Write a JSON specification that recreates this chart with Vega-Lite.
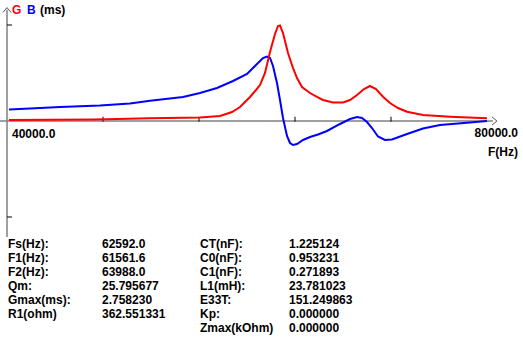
{
  "$schema": "https://vega.github.io/schema/vega-lite/v6.json",
  "width": 480,
  "height": 224,
  "autosize": {"type": "none"},
  "padding": {"left": 7, "top": 9, "right": 36, "bottom": 118},
  "background": "white",
  "config": {"view": {"stroke": null}, "axis": {"disable": true}, "font": "Liberation Sans"},
  "datasets": {
    "curves": [
      {"f": 40167, "v": 0.330, "s": "B"}, {"f": 41917, "v": 0.359, "s": "B"}, {"f": 44417, "v": 0.402, "s": "B"},
      {"f": 47750, "v": 0.445, "s": "B"}, {"f": 50250, "v": 0.503, "s": "B"}, {"f": 51917, "v": 0.583, "s": "B"},
      {"f": 54667, "v": 0.690, "s": "B"}, {"f": 56083, "v": 0.804, "s": "B"}, {"f": 57500, "v": 0.948, "s": "B"},
      {"f": 58833, "v": 1.149, "s": "B"}, {"f": 60000, "v": 1.350, "s": "B"}, {"f": 60833, "v": 1.638, "s": "B"},
      {"f": 61333, "v": 1.810, "s": "B"}, {"f": 61667, "v": 1.853, "s": "B"}, {"f": 61917, "v": 1.810, "s": "B"},
      {"f": 62167, "v": 1.580, "s": "B"}, {"f": 62500, "v": 1.092, "s": "B"}, {"f": 62750, "v": 0.603, "s": "B"},
      {"f": 63000, "v": 0.086, "s": "B"}, {"f": 63333, "v": -0.431, "s": "B"}, {"f": 63583, "v": -0.632, "s": "B"},
      {"f": 63833, "v": -0.690, "s": "B"}, {"f": 64167, "v": -0.661, "s": "B"}, {"f": 64667, "v": -0.546, "s": "B"},
      {"f": 65250, "v": -0.460, "s": "B"}, {"f": 65917, "v": -0.388, "s": "B"}, {"f": 66667, "v": -0.287, "s": "B"},
      {"f": 67750, "v": -0.086, "s": "B"}, {"f": 68583, "v": 0.057, "s": "B"}, {"f": 69167, "v": 0.115, "s": "B"},
      {"f": 69583, "v": 0.086, "s": "B"}, {"f": 70000, "v": -0.029, "s": "B"}, {"f": 70417, "v": -0.201, "s": "B"},
      {"f": 70917, "v": -0.445, "s": "B"}, {"f": 71500, "v": -0.546, "s": "B"}, {"f": 72083, "v": -0.532, "s": "B"},
      {"f": 73333, "v": -0.374, "s": "B"}, {"f": 74667, "v": -0.215, "s": "B"}, {"f": 76083, "v": -0.115, "s": "B"},
      {"f": 78333, "v": -0.049, "s": "B"}, {"f": 80000, "v": 0.0, "s": "B"},
      {"f": 40167, "v": 0.029, "s": "G"}, {"f": 47333, "v": 0.043, "s": "G"}, {"f": 51917, "v": 0.078, "s": "G"},
      {"f": 56083, "v": 0.101, "s": "G"}, {"f": 57750, "v": 0.144, "s": "G"}, {"f": 58750, "v": 0.259, "s": "G"},
      {"f": 59417, "v": 0.402, "s": "G"}, {"f": 60250, "v": 0.690, "s": "G"}, {"f": 60750, "v": 0.891, "s": "G"},
      {"f": 61083, "v": 1.034, "s": "G"}, {"f": 61500, "v": 1.379, "s": "G"}, {"f": 61917, "v": 1.982, "s": "G"},
      {"f": 62333, "v": 2.500, "s": "G"}, {"f": 62583, "v": 2.729, "s": "G"}, {"f": 62750, "v": 2.744, "s": "G"},
      {"f": 63000, "v": 2.528, "s": "G"}, {"f": 63417, "v": 1.954, "s": "G"}, {"f": 63833, "v": 1.523, "s": "G"},
      {"f": 64167, "v": 1.235, "s": "G"}, {"f": 64583, "v": 0.977, "s": "G"}, {"f": 65250, "v": 0.804, "s": "G"},
      {"f": 65833, "v": 0.690, "s": "G"}, {"f": 66333, "v": 0.603, "s": "G"}, {"f": 67167, "v": 0.532, "s": "G"},
      {"f": 68000, "v": 0.532, "s": "G"}, {"f": 68583, "v": 0.603, "s": "G"}, {"f": 69167, "v": 0.747, "s": "G"},
      {"f": 69750, "v": 0.919, "s": "G"}, {"f": 70250, "v": 1.006, "s": "G"}, {"f": 70750, "v": 0.919, "s": "G"},
      {"f": 71333, "v": 0.698, "s": "G"}, {"f": 71917, "v": 0.517, "s": "G"}, {"f": 72583, "v": 0.374, "s": "G"},
      {"f": 73333, "v": 0.267, "s": "G"}, {"f": 74667, "v": 0.172, "s": "G"}, {"f": 76917, "v": 0.124, "s": "G"},
      {"f": 80000, "v": 0.078, "s": "G"}
    ],
    "one": [{}],
    "xticks": [{"f": 48000}, {"f": 56000}, {"f": 64000}, {"f": 72000}],
    "yticks": [{"v": 2.758}, {"v": -2.758}],
    "table": [
      {"row": 0, "side": "left", "label": "Fs(Hz):", "value": "62592.0"},
      {"row": 1, "side": "left", "label": "F1(Hz):", "value": "61561.6"},
      {"row": 2, "side": "left", "label": "F2(Hz):", "value": "63988.0"},
      {"row": 3, "side": "left", "label": "Qm:", "value": "25.795677"},
      {"row": 4, "side": "left", "label": "Gmax(ms):", "value": "2.758230"},
      {"row": 5, "side": "left", "label": "R1(ohm)", "value": "362.551331"},
      {"row": 0, "side": "right", "label": "CT(nF):", "value": "1.225124"},
      {"row": 1, "side": "right", "label": "C0(nF):", "value": "0.953231"},
      {"row": 2, "side": "right", "label": "C1(nF):", "value": "0.271893"},
      {"row": 3, "side": "right", "label": "L1(mH):", "value": "23.781023"},
      {"row": 4, "side": "right", "label": "E33T:", "value": "151.249863"},
      {"row": 5, "side": "right", "label": "Kp:", "value": "0.000000"},
      {"row": 6, "side": "right", "label": "Zmax(kOhm)", "value": "0.000000"}
    ]
  },
  "layer": [
    {
      "layer": [
        {
          "data": {"name": "curves"},
          "mark": {"type": "line", "strokeWidth": 2, "opacity": 0},
          "encoding": {
            "x": {"field": "f", "type": "quantitative", "scale": {"domain": [40000, 80000], "nice": false, "zero": false}},
            "y": {"field": "v", "type": "quantitative", "scale": {"domain": [-3.218, 3.218], "nice": false, "zero": false}},
            "detail": {"field": "s"}
          }
        },
        {
          "data": {"name": "one"},
          "mark": {"type": "rule", "color": "#808080", "strokeWidth": 1.5},
          "encoding": {"x": {"datum": 39417}, "x2": {"datum": 80500}, "y": {"datum": 0}}
        },
        {
          "data": {"name": "one"},
          "mark": {"type": "rule", "color": "#808080", "strokeWidth": 1.5},
          "encoding": {"x": {"datum": 40000}, "y": {"datum": 3.2}, "y2": {"datum": -3.33}}
        },
        {
          "data": {"name": "one"},
          "mark": {"type": "point", "shape": "M-1,0.6L0,-0.6L1,0.6", "filled": false, "stroke": "#555555", "strokeWidth": 1, "size": 64, "opacity": 1},
          "encoding": {"x": {"datum": 40000}, "y": {"datum": 3.189}}
        },
        {
          "data": {"name": "one"},
          "mark": {"type": "point", "shape": "M-0.6,-1L0.6,0L-0.6,1", "filled": false, "stroke": "#555555", "strokeWidth": 1, "size": 64, "opacity": 1},
          "encoding": {"x": {"datum": 80625}, "y": {"datum": 0}}
        },
        {
          "data": {"name": "xticks"},
          "mark": {"type": "tick", "orient": "vertical", "color": "#000000", "thickness": 1, "size": 5, "opacity": 1},
          "encoding": {"x": {"field": "f", "type": "quantitative"}, "y": {"datum": 0.05}}
        },
        {
          "data": {"name": "yticks"},
          "mark": {"type": "rule", "color": "#000000", "strokeWidth": 1},
          "encoding": {"x": {"datum": 40000}, "x2": {"datum": 40420}, "y": {"field": "v", "type": "quantitative"}}
        },
        {
          "data": {"name": "curves"},
          "mark": {"type": "line", "strokeWidth": 2},
          "encoding": {
            "x": {"field": "f", "type": "quantitative"},
            "y": {"field": "v", "type": "quantitative"},
            "color": {"field": "s", "type": "nominal", "scale": {"domain": ["G", "B"], "range": ["#ff0000", "#0000ff"]}, "legend": null},
            "order": {"field": "f", "type": "quantitative"}
          }
        },
        {
          "data": {"name": "one"},
          "mark": {"type": "text", "text": "G", "align": "left", "baseline": "middle", "fontSize": 12, "fontWeight": "bold", "color": "#ff0000"},
          "encoding": {"x": {"datum": 40417}, "y": {"datum": 3.189}}
        },
        {
          "data": {"name": "one"},
          "mark": {"type": "text", "text": "B", "align": "left", "baseline": "middle", "fontSize": 12, "fontWeight": "bold", "color": "#0000ff"},
          "encoding": {"x": {"datum": 41667}, "y": {"datum": 3.189}}
        },
        {
          "data": {"name": "one"},
          "mark": {"type": "text", "text": "(ms)", "align": "left", "baseline": "middle", "fontSize": 12, "fontWeight": "bold", "color": "#000000"},
          "encoding": {"x": {"datum": 42750}, "y": {"datum": 3.189}}
        },
        {
          "data": {"name": "one"},
          "mark": {"type": "text", "text": "40000.0", "align": "left", "baseline": "middle", "fontSize": 12, "fontWeight": "bold", "color": "#000000"},
          "encoding": {"x": {"datum": 40417}, "y": {"datum": -0.36}}
        },
        {
          "data": {"name": "one"},
          "mark": {"type": "text", "text": "80000.0", "align": "right", "baseline": "middle", "fontSize": 12, "fontWeight": "bold", "color": "#000000"},
          "encoding": {"x": {"datum": 82583}, "y": {"datum": -0.345}}
        },
        {
          "data": {"name": "one"},
          "mark": {"type": "text", "text": "F(Hz)", "align": "right", "baseline": "middle", "fontSize": 12, "fontWeight": "bold", "color": "#000000"},
          "encoding": {"x": {"datum": 82583}, "y": {"datum": -0.891}}
        }
      ]
    },
    {
      "data": {"name": "table"},
      "mark": {"type": "text", "align": "left", "baseline": "middle", "fontSize": 12, "fontWeight": "bold", "color": "#000000"},
      "encoding": {
        "x": {"field": "side", "type": "nominal", "scale": {"type": "point", "domain": ["left", "right"], "range": [1, 193], "padding": 0}},
        "y": {"field": "row", "type": "ordinal", "scale": {"type": "point", "domain": [0, 1, 2, 3, 4, 5, 6], "range": [235, 319], "padding": 0}},
        "text": {"field": "label"}
      }
    },
    {
      "data": {"name": "table"},
      "mark": {"type": "text", "align": "left", "baseline": "middle", "fontSize": 12, "fontWeight": "bold", "color": "#000000"},
      "encoding": {
        "x": {"field": "side", "type": "nominal", "scale": {"type": "point", "domain": ["left", "right"], "range": [95, 282], "padding": 0}},
        "y": {"field": "row", "type": "ordinal", "scale": {"type": "point", "domain": [0, 1, 2, 3, 4, 5, 6], "range": [235, 319], "padding": 0}},
        "text": {"field": "value"}
      }
    }
  ],
  "resolve": {"scale": {"x": "independent", "y": "independent"}}
}
